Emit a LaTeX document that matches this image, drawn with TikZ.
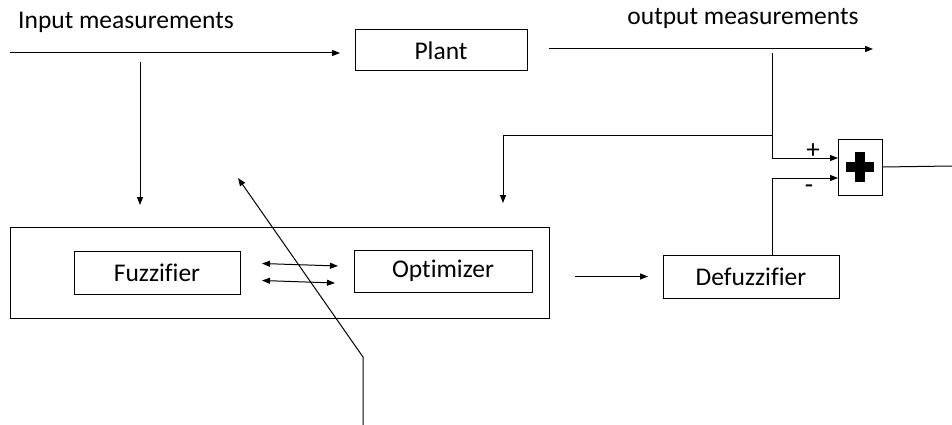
\documentclass[tikz,border=0pt]{standalone}
\usepackage{fontspec}
\setmainfont[Ligatures=CommonOff]{Carlito}
\usetikzlibrary{arrows.meta}
\tikzset{
	block/.style={draw, line width=1pt, inner sep=0pt, outer sep=0pt, font=\fontsize{25.5}{28}\selectfont},
	line/.style={line width=1pt, -{Triangle[length=8pt, width=6pt]}},
	dline/.style={line width=1pt, {Triangle[length=8pt, width=6pt]}-{Triangle[length=8pt, width=6pt]}},
	lbl/.style={font=\fontsize{25.5}{28}\selectfont, inner sep=0pt}
}
\begin{document}
\begin{tikzpicture}[x=1pt, y=-1pt]
		\useasboundingbox (0, 0) rectangle (952, 425);
		% blocks
		\node[block, minimum width=172pt, minimum height=41pt] (plant) at (441, 50.5) {Plant};
		\node[block, minimum width=539pt, minimum height=91pt] (outer) at (279.5, 272.5) {};
		\node[block, minimum width=166pt, minimum height=43pt] (fuzz) at (157, 272.5) {Fuzzifier};
		\node[block, minimum width=178pt, minimum height=42pt] (optim) at (443, 271) {Optimizer};
		\node[block, minimum width=176pt, minimum height=43pt] (defuz) at (751, 276.5) {Defuzzifier};
		\node[block, minimum width=44pt, minimum height=56pt] (sum) at (860, 167) {};
		\fill (sum.center) ++(-14, -5) rectangle ++(28, 10);
		\fill (sum.center) ++(-5, -15) rectangle ++(10, 30);
		% labels
		\node[lbl] (inlbl) at (126, 22) {Input measurements};
		\node[lbl] (outlbl) at (743, 18) {output measurements};
		\node[lbl, font=\fontsize{27}{28}\selectfont] (plus) at (813, 151) {+};
		\node[lbl, font=\fontsize{27}{28}\selectfont] (minus) at (809, 189) {-};
		% free ends
		\coordinate (in) at (10, 53);
		\coordinate (out) at (873, 49);
		\coordinate (tap) at (140, 62);
		\coordinate (fuzz in) at (140, 205);
		\coordinate (split) at (772, 53);
		\coordinate (branch) at (772, 135);
		\coordinate (optim in) at (503, 203);
		\coordinate (res) at (952, 166);
		\coordinate (fb start) at (363, 425);
		\coordinate (fb bend) at (363, 357);
		\coordinate (fb end) at (238, 178);
		% connectors
		\draw[line] (in) -- ([xshift=-15pt]plant.west |- in);
		\draw[line] ([xshift=22pt]plant.east |- out) -- (out);
		\draw[line] (tap) -- (fuzz in);
		\draw[line] (split) |- ([yshift=9pt]sum.west);
		\draw[line width=1pt] (branch) -- (branch -| optim in);
		\draw[line] (branch -| optim in) -- (optim in);
		\draw[line] ([xshift=21pt]defuz.north) |- ([yshift=-11pt]sum.west);
		\draw[line width=1pt] (sum.east) -- (res);
		\draw[line] ([xshift=26pt]outer.east |- defuz.west) -- ([xshift=-15pt]defuz.west);
		\draw[dline] ([xshift=22pt, yshift=9pt]fuzz.east) -- ([xshift=-16pt, yshift=5pt]optim.west);
		\draw[dline] ([xshift=22pt, yshift=-8pt]fuzz.east) -- ([xshift=-19pt, yshift=-12pt]optim.west);
		\draw[line] (fb start) -- (fb bend) -- (fb end);
	\end{tikzpicture}
\end{document}
